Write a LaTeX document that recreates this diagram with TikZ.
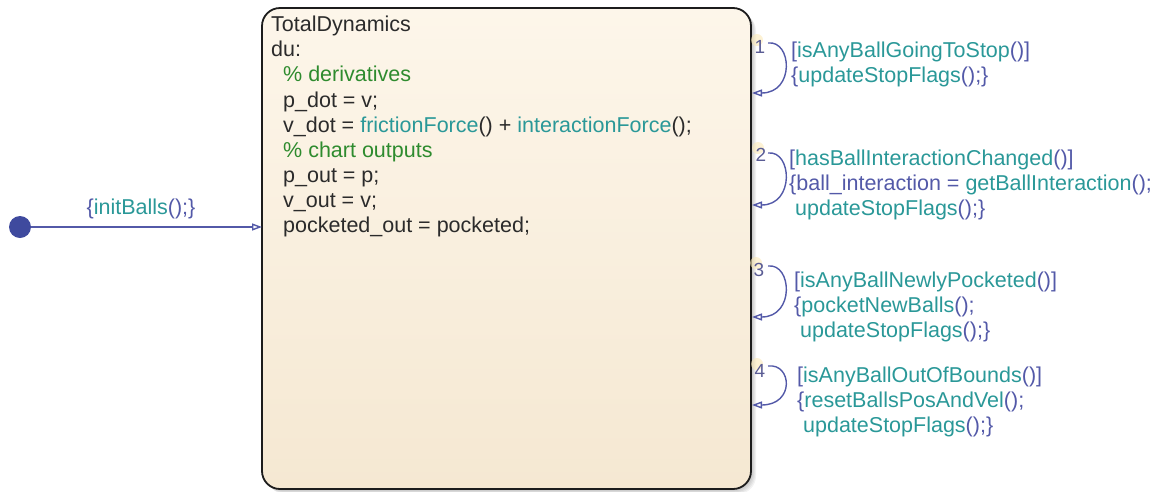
\documentclass[tikz,border=0pt]{standalone}
\usepackage{fontspec}
\setmainfont{Liberation Sans}
\usetikzlibrary{arrows.meta, positioning, calc}
\definecolor{stateink}{HTML}{1C1C1C}
\definecolor{statetop}{HTML}{FDF6EA}
\definecolor{statebot}{HTML}{F5E8D2}
\definecolor{codeink}{HTML}{2B2B2B}
\definecolor{fnteal}{HTML}{2A9898}
\definecolor{cmtgreen}{HTML}{2E8B2E}
\definecolor{edgeink}{HTML}{5359A8}
\definecolor{dotink}{HTML}{3F4A9E}
\definecolor{orderink}{HTML}{5A5C94}
\definecolor{haloyellow}{HTML}{FBE9B8}

\newcommand{\fcall}[1]{\textcolor{fnteal}{#1}}
\newcommand{\cmnt}[1]{\textcolor{cmtgreen}{#1}}

\tikzset{
  statebox/.style={draw=stateink, line width=1.8pt, rounded corners=18pt,
    top color=statetop, bottom color=statebot, inner sep=0pt, outer sep=0pt},
  code/.style={anchor=base west, inner sep=0pt, text=codeink,
    font=\fontsize{21.5}{25}\selectfont},
  lbl/.style={code, text=edgeink},
  trans/.style={draw=edgeink, line width=1.4pt,
    -{Triangle[open, length=10pt, width=7pt]}},
  order/.style={inner sep=0pt, text=orderink, font=\fontsize{19}{21}\selectfont},
}

\begin{document}
\begin{tikzpicture}[x=1pt, y=-1pt]
    \useasboundingbox (0,0) rectangle (1162,491);
    % soft shadow of the state
    \foreach \s in {1,2,...,5}{%
      \fill[black, opacity=0.05, rounded corners=18pt] (262+\s,8+\s) rectangle (751+\s,489+\s);}
    \node[statebox, minimum width=489pt, minimum height=481pt, anchor=north west] (dyn) at (262,8) {};
    % state label and during actions
    \foreach \i/\dx/\txt in {0/0/TotalDynamics, 1/0/du:, 2/12/{\cmnt{\% derivatives}},
        3/12/{p\_dot = v;}, 4/12/{v\_dot = \fcall{frictionForce}() + \fcall{interactionForce}();},
        5/12/{\cmnt{\% chart outputs}}, 6/12/{p\_out = p;}, 7/12/{v\_out = v;},
        8/12/{pocketed\_out = pocketed;}}{%
      \node[code] (ln\i) at (271+\dx, 31.7+25.1*\i) {\txt};}
    % default transition
    \node[circle, fill=dotink, minimum size=22pt, inner sep=0pt] (init) at (20,227) {};
    \draw[trans] (init) -- (dyn.west |- init);
    \node[lbl, anchor=base] (initlbl) at (141,214) {\{\fcall{initBalls}();\}};
    % self loops with execution order
    \foreach \k/\ya/\yb/\xn/\yn in {1/43/93/760/47, 2/153/205/761/155, 3/266/317/759/270, 4/366/405/760/371}{%
      \fill[haloyellow, opacity=0.6] (\xn-3,\yn-7) circle (6);
      \node[order] (ord\k) at (\xn,\yn) {\k};
      \coordinate (src\k) at (768,\ya);
      \coordinate (dst\k) at (752,\yb);
      \draw[trans] (src\k) .. controls +(24,-3) and +(43,0) .. (dst\k);}
    \node[lbl] (g1) at (791,57) {[\fcall{isAnyBallGoingToStop}()]};
    \node[lbl] (a1) at (791,82) {\{\fcall{updateStopFlags}();\}};
    \node[lbl] (g2) at (789,165) {[\fcall{hasBallInteractionChanged}()]};
    \node[lbl] (a2) at (789,190) {\{ball\_interaction = \fcall{getBallInteraction}();};
    \node[lbl] (b2) at (789,215) {\ \fcall{updateStopFlags}();\}};
    \node[lbl] (g3) at (794,287) {[\fcall{isAnyBallNewlyPocketed}()]};
    \node[lbl] (a3) at (794,312) {\{\fcall{pocketNewBalls}();};
    \node[lbl] (b3) at (794,337) {\ \fcall{updateStopFlags}();\}};
    \node[lbl] (g4) at (797,382) {[\fcall{isAnyBallOutOfBounds}()]};
    \node[lbl] (a4) at (797,407) {\{\fcall{resetBallsPosAndVel}();};
    \node[lbl] (b4) at (797,432) {\ \fcall{updateStopFlags}();\}};
\end{tikzpicture}
\end{document}
